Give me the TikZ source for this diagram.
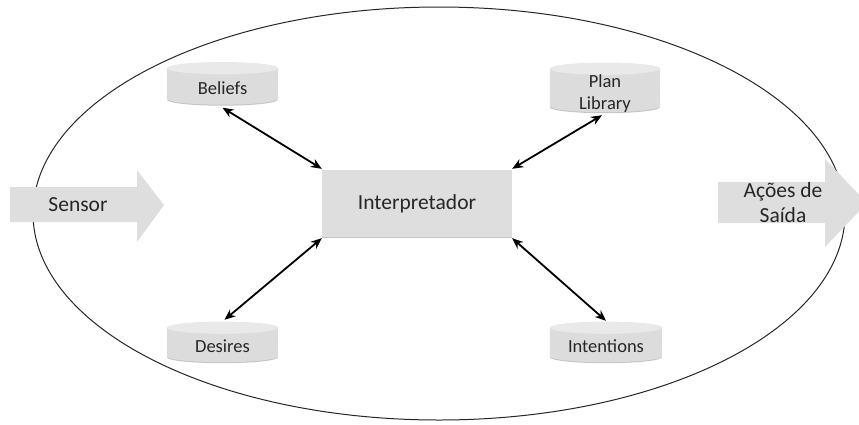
\documentclass[tikz,border=0pt]{standalone}
\usepackage{fontspec}
\setmainfont{Carlito}
\usetikzlibrary{arrows.meta,calc}
\definecolor{boxgray}{HTML}{DEDEDE}
\definecolor{cylbody}{HTML}{DCDCDC}
\definecolor{cyltop}{HTML}{E9E9E9}
\definecolor{cylshade}{HTML}{C4C4C4}
\definecolor{txt}{HTML}{262626}
\newcommand\drawcyl[2]{% node name, half width
  \fill[cylshade] ([yshift=6pt]#1.south west) arc[start angle=180,end angle=360,x radius=#2,y radius=6pt] -- cycle;
  \fill[cylbody] ([yshift=-6pt]#1.north west) -- ([yshift=7pt]#1.south west)
     arc[start angle=180,end angle=360,x radius=#2,y radius=6pt]
     -- ([yshift=-6pt]#1.north east)
     arc[start angle=0,end angle=180,x radius=#2,y radius=6pt] -- cycle;
  \fill[cyltop] ([yshift=-6pt]#1.north) ellipse[x radius=#2,y radius=6pt];
}
\tikzset{
  cyl/.style={rectangle, inner sep=0pt, text=txt, font=\fontsize{18.5}{22}\selectfont, align=center},
  link/.style={line width=1.8pt, black, {Stealth[length=11pt,width=9pt]}-{Stealth[length=11pt,width=9pt]}},
  bigarrow/.style={fill=boxgray},
  bigtext/.style={text=txt, font=\fontsize{21.5}{25}\selectfont, align=center, inner sep=0pt}
}
\begin{document}
\begin{tikzpicture}[x=1pt,y=1pt]
\useasboundingbox (0,0) rectangle (859,-424);
\clip (0,0) rectangle (859,-424);
% outer ellipse
\draw[line width=1pt, black!85] (439,-213.5) ellipse[x radius=406pt, y radius=206.5pt];
% sensor arrow
\fill[bigarrow] (10,-187) -- (137,-187) -- (137,-170) -- (164,-205) -- (137,-242) -- (137,-222) -- (10,-222) -- cycle;
\node[bigtext] (sensor) at (78,-205) {Sensor};
% output arrow
\fill[bigarrow] (718,-182) -- (825,-182) -- (825,-159) -- (867,-203) -- (825,-247) -- (825,-223) -- (718,-223) -- cycle;
\node[bigtext] (saida) at (783,-203) {Ações de\\Saída};
% central box
\fill[black!22] (322,-170.5) rectangle (512,-238);
\node[fill=boxgray, minimum width=190pt, minimum height=67pt, inner sep=0pt, text=txt, font=\fontsize{21.5}{25}\selectfont] (int) at (417,-203.5) {Interpretador};
% cylinders
\node[cyl, minimum width=111pt, minimum height=43pt] (bel) at (222.5,-84) {};
\node[cyl, minimum width=110pt, minimum height=50pt] (pl) at (605,-88) {};
\node[cyl, minimum width=111pt, minimum height=41pt] (des) at (222.5,-342.5) {};
\node[cyl, minimum width=112pt, minimum height=41pt] (inten) at (606,-342.5) {};
\drawcyl{bel}{55.5pt}
\drawcyl{pl}{55pt}
\drawcyl{des}{55.5pt}
\drawcyl{inten}{56pt}
\node[cyl] at ([yshift=-4pt]bel.center) {Beliefs};
\node[cyl] at ([yshift=-6pt]pl.center) {Plan\\Library};
\node[cyl] at ([yshift=-4pt]des.center) {Desires};
\node[cyl] at ([yshift=-4pt]inten.center) {Intentions};
% connectors
\draw[link] ([yshift=-2pt]bel.south) -- ([yshift=1pt]int.north west);
\draw[link] ([xshift=-3pt,yshift=-2pt]pl.south) -- ([yshift=1pt]int.north east);
\draw[link] ([xshift=2pt,yshift=2pt]des.north) -- ([yshift=-1pt]int.south west);
\draw[link] ([yshift=1pt]inten.north) -- ([yshift=-1pt]int.south east);
\end{tikzpicture}
\end{document}
